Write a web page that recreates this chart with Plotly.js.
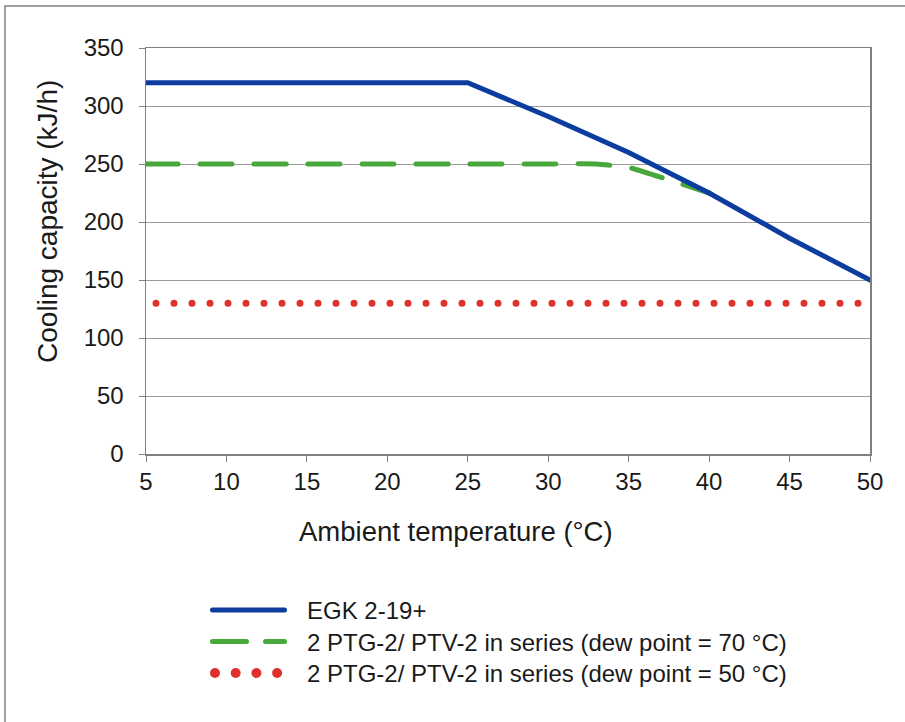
<!DOCTYPE html>
<html>
<head>
<meta charset="utf-8">
<script src="https://cdn.plot.ly/plotly-3.0.1.min.js"></script>
<style>
html,body{margin:0;padding:0;background:#fff;}
#chart{width:905px;height:722px;}
.scatterlayer path.js-line, .legend path.js-line{stroke-linecap:round;}
</style>
</head>
<body>
<div id="chart"></div>
<script>
// Data
const tempEGK = [5, 10, 15, 20, 25, 30, 35, 40, 45, 50];
const capEGK  = [320, 320, 320, 320, 320, 291, 260, 225, 186, 150];
const temp70  = [5, 10, 15, 20, 25, 30, 33, 35, 40];
const cap70   = [250, 250, 250, 250, 250, 250, 250, 247, 225];
const temp50  = [5, 50];
const cap50   = [130, 130];
const seriesNames = [
  'EGK 2-19+',
  '2 PTG-2/ PTV-2 in series (dew point = 70 °C)',
  '2 PTG-2/ PTV-2 in series (dew point = 50 °C)'
];
const xTitle = 'Ambient temperature (°C)';
const yTitle = 'Cooling capacity (kJ/h)';
const xTicks = [5, 10, 15, 20, 25, 30, 35, 40, 45, 50];
const yTicks = [0, 50, 100, 150, 200, 250, 300, 350];

const FONT = 'Liberation Sans, Arial, sans-serif';
const TXT = '#1a1a1a';

const data = [
  {x: temp50, y: cap50, name: seriesNames[2], mode: 'lines',
   line: {color: '#e0302c', width: 7, dash: '0px,18px'}},
  {x: temp70, y: cap70, name: seriesNames[1], mode: 'lines',
   line: {color: '#48a83c', width: 5, dash: '32px,22px', shape: 'spline', smoothing: 0.4}},
  {x: tempEGK, y: capEGK, name: seriesNames[0], mode: 'lines',
   line: {color: '#0c3c9e', width: 5}}
];

const layout = {
  width: 905, height: 722,
  margin: {l: 146, r: 35, t: 48, b: 268},
  paper_bgcolor: '#fff', plot_bgcolor: '#fff',
  font: {family: FONT, color: TXT, size: 24},
  showlegend: true,
  legend: {
    x: (207.5 - 146) / 724, xanchor: 'left', y: -0.33, yanchor: 'top',
    traceorder: 'reversed', font: {family: FONT, size: 24, color: TXT},
    bgcolor: 'rgba(0,0,0,0)'
  },
  xaxis: {
    range: [5, 50], tickvals: xTicks, ticktext: xTicks.map(String),
    showgrid: false, zeroline: false,
    showline: true, linecolor: '#7f7f7f', linewidth: 1.5, mirror: true,
    ticks: 'outside', ticklen: 6, tickcolor: '#7f7f7f',
    tickfont: {family: FONT, size: 24, color: TXT}
  },
  yaxis: {
    range: [0, 350], tickvals: yTicks, ticktext: yTicks.map(String),
    showgrid: true, gridcolor: '#9a9a9a', gridwidth: 1, zeroline: false,
    showline: true, linecolor: '#7f7f7f', linewidth: 1.5, mirror: true,
    ticks: 'outside', ticklen: 6, tickcolor: '#7f7f7f', ticklabelstandoff: 10,
    tickfont: {family: FONT, size: 24, color: TXT}
  },
  annotations: [
    {text: xTitle, xref: 'paper', yref: 'paper', x: (456 - 146) / 724, y: (454 - 531) / 405,
     xanchor: 'center', yanchor: 'middle', showarrow: false,
     font: {family: FONT, size: 27.5, color: TXT}},
    {text: yTitle, xref: 'paper', yref: 'paper', x: (47.5 - 146) / 724, y: (454 - 222) / 405,
     xanchor: 'center', yanchor: 'middle', showarrow: false, textangle: -90,
     font: {family: FONT, size: 28, color: TXT}}
  ],
  shapes: [{
    type: 'rect', xref: 'paper', yref: 'paper',
    x0: (5 - 146) / 724, x1: 1.2, y0: -0.8, y1: (454 - 7) / 405,
    line: {color: '#808080', width: 1.5}, layer: 'below'
  }]
};

Plotly.newPlot('chart', data, layout, {staticPlot: true}).then(gd => {
  const isRed = p => (p.style.stroke || '').indexOf('224, 48, 44') >= 0;
  const isGreen = p => (p.style.stroke || '').indexOf('72, 168, 60') >= 0;
  gd.querySelectorAll('.scatterlayer path.js-line').forEach(p => {
    if (isRed(p)) p.style.strokeDashoffset = '8px';
  });
  gd.querySelectorAll('.legend [clip-path]').forEach(e => e.removeAttribute('clip-path'));
  const items = gd.querySelectorAll('.legend .traces');
  let y0 = null;
  items.forEach((g, i) => {
    const t = g.getAttribute('transform') || '';
    const m = t.match(/translate\(([-\d.]+),\s*([-\d.]+)\)/);
    if (m) {
      if (y0 === null) y0 = parseFloat(m[2]);
      g.setAttribute('transform', 'translate(' + m[1] + ',' + (y0 + 31.5 * i) + ')');
    }
    g.querySelectorAll('.legendlines path').forEach(p => {
      if (isRed(p)) {
        p.setAttribute('d', 'M7.5,0h63');
        p.style.strokeDasharray = '0px,20.7px';
        p.style.strokeWidth = '10px';
      } else if (isGreen(p)) {
        p.setAttribute('d', 'M5,0h72');
        p.style.strokeDasharray = '34px,19px';
      } else {
        p.setAttribute('d', 'M5,0h72');
      }
    });
    g.querySelectorAll('text.legendtext').forEach(tx => {
      tx.setAttribute('x', '99.5');
      tx.querySelectorAll('tspan').forEach(s => { if (s.hasAttribute('x')) s.setAttribute('x', '99.5'); });
    });
  });
});
</script>
</body>
</html>
